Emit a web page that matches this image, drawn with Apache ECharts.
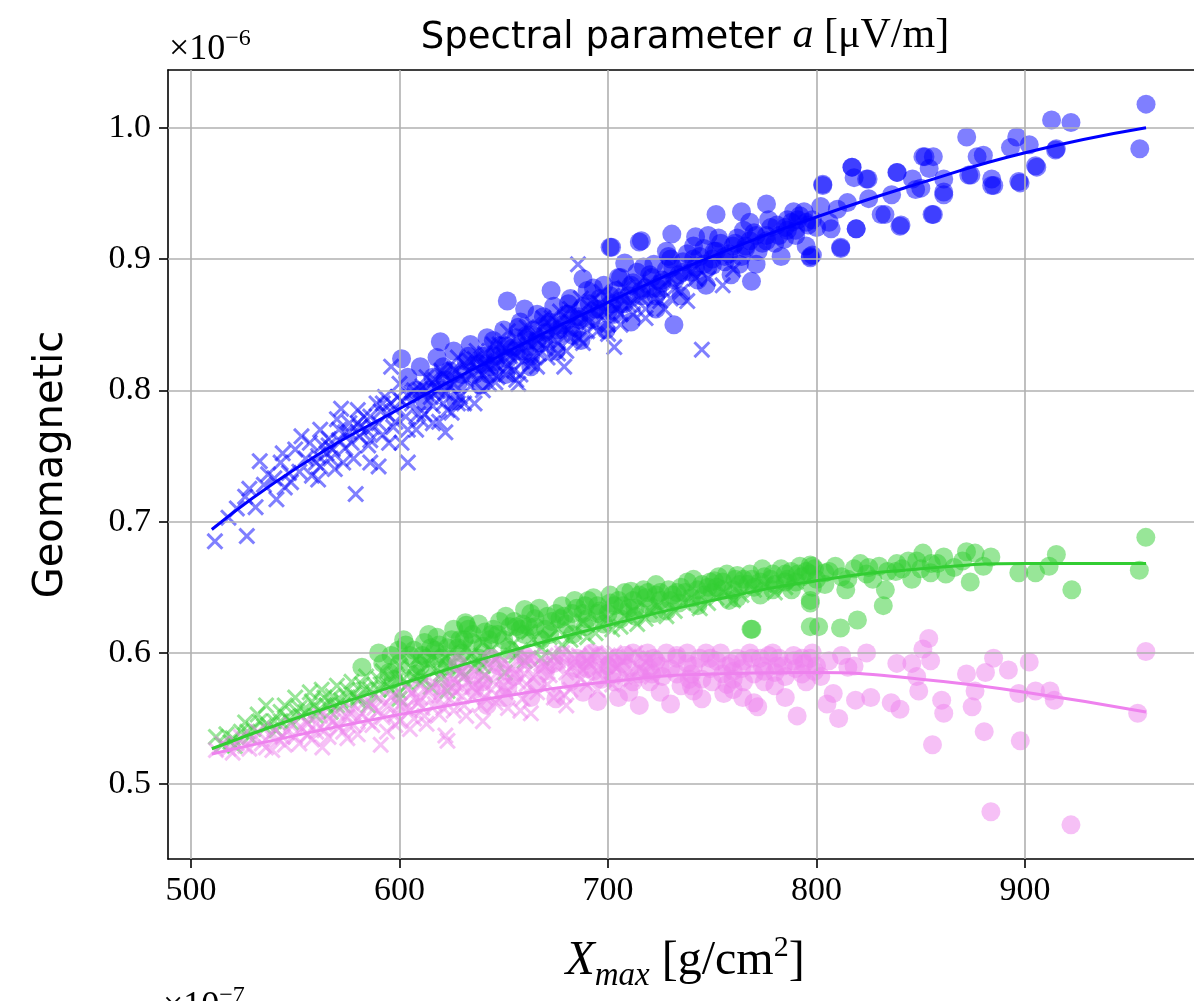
<!DOCTYPE html>
<html>
<head>
<meta charset="utf-8">
<title>Spectral parameter a</title>
<script src="https://cdn.jsdelivr.net/npm/echarts@6/dist/echarts.min.js"></script>
<style>
  html, body { margin: 0; padding: 0; background: #fff; }
  #chart { width: 1194px; height: 1001px; }
</style>
</head>
<body>
<div id="chart"></div>
<script>
// values in units of 1e-6 (shown by the offset text)
const xTicks = [500, 600, 700, 800, 900]
const yTicks = [0.5, 0.6, 0.7, 0.8, 0.9, 1.0]

const blueFit = [[510, 0.694], [550, 0.740], [600, 0.786], [650, 0.828], [700, 0.867], [750, 0.902], [800, 0.932], [850, 0.958], [900, 0.981], [958, 1.000]]
const greenFit = [[510, 0.527], [550, 0.550], [600, 0.576], [650, 0.600], [700, 0.621], [750, 0.640], [800, 0.655], [850, 0.664], [900, 0.668], [958, 0.668]]
const violetFit = [[510, 0.523], [550, 0.537], [600, 0.553], [650, 0.567], [700, 0.578], [750, 0.584], [800, 0.585], [850, 0.580], [900, 0.570], [958, 0.555]]

const blueCross = [
  [511.5, .685], [526.8, .689], [533, .746], [537, .736], [531, .711], [541, .717], [526, .719], [550, .755], [547, .737], [561, .732],
  [562, .770], [572, .786], [579, .721], [590, .742], [604, .745], [622, .768], [625, .783], [657, .805], [596, .818], [679, .818],
  [703, .833], [685.6, .896], [656, .808], [666, .818], [745, .831],
  [518, .703], [522, .710], [528, .725], [535, .728], [540, .733], [543, .745], [545, .726], [552, .738], [555, .748], [557, .760],
  [560, .745], [565, .752], [566, .763], [569, .740], [571, .770], [574, .756], [576, .775], [578, .748], [581, .765], [583, .780],
  [585, .758], [587, .772], [589, .790], [592, .766], [594, .782], [597, .772], [599, .795], [601, .760], [603, .780], [606, .790],
  [608, .770], [610, .800], [612, .782], [615, .795], [617, .808], [619, .776], [621, .790], [624, .803], [627, .815], [629, .795],
  [632, .808], [634, .822], [636, .790], [638, .815], [641, .828], [643, .805], [646, .820], [648, .835], [651, .812], [653, .826],
  [656, .840], [659, .822], [662, .835], [664, .850], [667, .828], [670, .842], [673, .855], [676, .836], [679, .848], [682, .862],
  [686, .840], [689, .855], [692, .868], [695, .845], [698, .860], [702, .872], [706, .850], [710, .865], [714, .880], [718, .855],
  [722, .870], [727, .862], [732, .878], [738, .868], [742, .885], [755, .880], [760, .892],
  [544, .752], [548, .730], [553, .765], [558, .735], [563, .758], [567, .748], [570, .778], [573, .745], [577, .760], [580, .785],
  [584, .770], [586, .745], [590, .775], [593, .795], [595, .760], [598, .785], [600, .805], [604, .770], [607, .800], [609, .782],
  [613, .810], [616, .775], [618, .800], [620, .815], [623, .785], [626, .805], [628, .825], [631, .790], [633, .815], [637, .830],
  [640, .800], [642, .818], [645, .835], [647, .810], [650, .825], [652, .845], [655, .815], [658, .832], [661, .848], [663, .820],
  [666, .838], [669, .855], [671, .825], [674, .845], [677, .860], [680, .830], [683, .852], [687, .870], [690, .845], [694, .860],
  [697, .875], [700, .850], [704, .862], [708, .878], [712, .858], [716, .870], [720, .882], [725, .868], [730, .885], [735, .875],
  [740, .890], [748, .885],
  [562, .742], [568, .755], [574, .768], [580, .775], [586, .762], [592, .790], [598, .776], [604, .796], [610, .778], [616, .788],
  [622, .798], [628, .790], [634, .803], [640, .812], [646, .806], [652, .818], [658, .812], [664, .826], [670, .832], [676, .828],
  [682, .840], [688, .836], [694, .850], [700, .843], [706, .858], [712, .866], [718, .862], [724, .876], [730, .870],
  [561, .750], [566, .758], [571, .762], [576, .768], [581, .772], [586, .780], [591, .784], [596, .790], [601, .792], [606, .798],
  [611, .803], [616, .806], [621, .812], [626, .816], [631, .820], [636, .824], [641, .820], [646, .828], [651, .832], [656, .826],
  [661, .838], [666, .844], [671, .838], [676, .852], [681, .846], [686, .858], [691, .852], [696, .866]
]
const blueCircle = [
  [601, .824], [619.6, .837], [651.7, .868], [660, .862], [672.7, .876], [701, .909], [715, .913], [731.6, .850], [768.8, .883],
  [701.7, .909], [811.6, .909], [797, .901], [819, .923], [832.8, .934], [840.5, .926], [856, .934], [817, .970], [824.7, .961],
  [838.5, .966], [852, .978], [861, .951], [873, .964], [884, .956], [897, .959], [905, .971], [914.6, .983], [751.8, .934],
  [764, .936], [776, .942], [803, .957], [716, .914], [730.6, .919], [742, .917], [750, .895], [792, .933], [798, .903],
  [784.6, .915], [846, .961], [850, .954],
  [958, 1.018], [955, .984], [912.7, 1.006], [922, 1.004], [915, .984], [897.6, .958], [905.6, .970], [902, .987], [893, .985],
  [896, .993], [872, .993], [877, .978], [874, .964], [885, .956], [884, .961], [880, .979], [855.4, .934], [861, .949], [861, .961],
  [851, .978], [856, .978], [854, .969], [847.5, .953], [838.7, .966], [836, .949], [840, .925], [831, .934], [824, .961], [817, .970],
  [818, .962], [825, .946], [814.8, .943], [819, .923], [811.6, .908], [797, .902], [803, .956], [807, .923], [788, .928],
  [608, .800], [612, .792], [616, .810], [620, .800], [624, .815], [628, .805], [632, .822], [636, .812], [640, .826], [644, .818],
  [648, .834], [652, .824], [656, .840], [660, .830], [664, .846], [668, .836], [672, .852], [676, .842], [680, .858], [684, .848],
  [688, .864], [692, .854], [696, .870], [700, .860], [704, .876], [708, .866], [712, .882], [716, .872], [720, .888], [724, .878],
  [728, .892], [732, .884], [736, .898], [740, .890], [744, .902], [748, .894], [752, .906], [756, .898], [760, .910], [764, .902],
  [768, .914], [772, .906], [776, .918], [780, .912], [785, .924], [790, .918], [795, .928], [800, .924],
  [604, .810], [610, .818], [614, .800], [618, .825], [622, .808], [626, .830], [630, .812], [634, .835], [638, .820], [642, .840],
  [646, .826], [650, .846], [654, .832], [658, .852], [662, .838], [666, .858], [670, .844], [674, .864], [678, .850], [682, .870],
  [686, .856], [690, .876], [694, .862], [698, .880], [702, .866], [706, .886], [710, .872], [714, .890], [718, .878], [722, .896],
  [726, .884], [730, .900], [734, .888], [738, .904], [742, .894], [746, .908], [750, .900], [754, .912], [758, .904], [762, .916],
  [766, .908], [770, .920], [774, .912], [778, .924], [782, .918], [786, .930], [790, .922], [794, .936], [798, .930], [802, .940],
  [806, .928], [810, .938], [643, .812], [663, .826], [683, .842], [703, .858], [723, .872], [743, .884], [763, .896], [688, .885],
  [708, .897], [728, .906], [748, .918], [768, .928],
  [621, .818], [627, .792], [633, .826], [639, .804], [645, .838], [651, .812], [657, .848], [663, .818], [669, .856], [675, .830],
  [681, .866], [687, .838], [693, .878], [699, .846], [705, .886], [711, .852], [717, .894], [723, .862], [729, .902], [735, .872],
  [741, .910], [747, .880], [753, .916], [759, .888], [765, .922], [771, .896], [777, .930], [783, .902], [789, .936], [795, .910],
  [641, .826], [646, .822], [651, .834], [656, .830], [661, .842], [666, .838], [671, .850], [676, .846], [681, .858], [686, .854],
  [691, .866], [696, .862], [701, .872], [706, .868], [711, .880], [716, .876], [721, .886], [726, .882], [731, .894], [736, .890],
  [741, .900], [746, .896], [751, .906], [756, .902], [761, .912], [766, .910], [771, .918], [776, .914], [781, .926], [786, .922],
  [791, .930], [796, .926]
]

const greenCross = [
  [512, .536], [526, .547], [536, .560], [550, .566], [562.7, .572], [615, .574], [623, .571], [631, .582], [641, .583], [650.6, .585],
  [660, .594], [668, .596], [674, .597],
  [515, .530], [520, .535], [524, .540], [530, .542], [533, .548], [540, .548], [543, .555], [546, .551], [552, .558], [555, .555],
  [558, .563], [565, .560], [568, .567], [572, .564], [575, .572], [578, .568], [582, .576], [586, .572], [590, .580], [594, .576],
  [598, .584], [602, .580], [606, .588], [610, .585], [614, .592], [618, .588], [622, .596], [626, .592], [634, .598], [638, .594],
  [644, .602], [648, .598], [654, .606], [658, .602], [664, .610], [672, .612], [678, .606], [684, .616], [690, .612], [696, .622],
  [702, .618], [708, .628], [714, .622], [720, .632], [728, .628], [736, .638], [744, .634], [752, .642], [760, .640], [770, .648],
  [780, .646], [790, .654],
  [517, .538], [521, .529], [528, .536], [532, .553], [537, .545], [541, .541], [545, .560], [548, .547], [553, .552], [557, .570],
  [561, .556], [564, .566], [567, .555], [570, .575], [573, .560], [577, .578], [580, .564], [584, .582], [588, .568], [592, .586],
  [596, .572], [600, .590], [604, .576], [608, .595], [612, .580], [616, .598], [620, .584], [624, .600], [628, .587], [632, .604],
  [636, .590], [640, .608], [646, .595], [652, .612], [656, .598], [662, .616], [668, .604], [676, .618], [682, .610], [688, .624],
  [694, .615], [700, .626], [706, .620], [712, .632], [718, .626], [724, .636], [732, .632], [740, .642], [748, .638], [756, .646],
  [764, .644], [775, .652], [785, .650],
  [560, .552], [570, .560], [580, .566], [590, .572], [600, .570], [610, .578], [620, .580], [630, .586], [640, .590], [600, .565],
  [585, .560],
  [519, .532], [527, .540], [535, .544], [543, .548], [551, .555], [559, .560], [567, .562], [575, .566], [583, .572], [591, .576],
  [599, .580], [607, .582], [615, .588], [623, .590], [631, .594], [639, .598]
]
const greenCircle = [
  [582, .589], [590, .600], [599.5, .602], [612, .608], [631.6, .623], [660, .633], [690.5, .640], [632, .621], [711, .647],
  [723, .652], [751, .655], [762, .659], [787.7, .662], [797, .667],
  [595, .585], [600, .592], [605, .598], [610, .590], [615, .604], [620, .596], [625, .610], [630, .600], [635, .614], [640, .605],
  [645, .618], [650, .610], [655, .624], [660, .614], [665, .626], [670, .618], [675, .630], [680, .622], [685, .634], [690, .626],
  [695, .636], [700, .630], [705, .640], [710, .634], [715, .644], [720, .636], [725, .646], [730, .640], [735, .650], [740, .642],
  [745, .652], [750, .646], [755, .654], [760, .648], [765, .656], [770, .650], [775, .658], [780, .652], [785, .660], [790, .654],
  [795, .662], [800, .656], [806, .662], [812, .658], [818, .664], [824, .660], [830, .666], [838, .662], [844, .670], [850, .664],
  [858, .668], [866, .665],
  [768.6, .618], [797, .640], [797, .620],
  [957.9, .688], [954.8, .663], [922.4, .648], [915, .675], [911.5, .666], [897, .661], [905, .661], [883.6, .673], [876, .676],
  [871.9, .677], [873.7, .654], [880, .666], [861, .673], [854.7, .661], [851, .676], [845.7, .656], [838.5, .668], [833, .648],
  [832, .636], [819.6, .625], [811.5, .619], [801, .620], [797, .638], [769, .618], [814, .648], [825, .665], [804, .661], [798, .666],
  [592, .592], [597, .580], [603, .606], [608, .584], [613, .596], [618, .612], [623, .590], [628, .604], [633, .618], [638, .596],
  [643, .610], [648, .624], [653, .602], [658, .618], [663, .630], [668, .610], [673, .624], [678, .636], [683, .614], [688, .630],
  [693, .642], [698, .622], [703, .636], [708, .646], [713, .628], [718, .642], [723, .644], [728, .632], [733, .646], [738, .654],
  [743, .636], [748, .650], [753, .658], [758, .640], [763, .652], [768, .660], [773, .644], [778, .656], [783, .664], [788, .648],
  [793, .658], [799, .664], [804, .652], [809, .666], [815, .656], [821, .668], [827, .656], [834, .662], [841, .664], [848, .670],
  [855, .668], [862, .660], [870, .670],
  [596, .598], [602, .610], [607, .602], [614, .614], [619, .606], [626, .618], [631, .610], [638, .622], [644, .614], [651, .628],
  [656, .620], [662, .620], [667, .634], [672, .614], [679, .628], [684, .640], [689, .620], [696, .632], [701, .644], [706, .626],
  [712, .640], [717, .648], [722, .630], [729, .648], [734, .638], [741, .656], [746, .644], [752, .650], [757, .660], [762, .642],
  [769, .656], [774, .664], [779, .648], [786, .656], [792, .666], [798, .650],
  [611, .598], [617, .602], [623, .604], [629, .610], [635, .608], [641, .616], [647, .614], [653, .620], [659, .622], [665, .620],
  [671, .628], [677, .626], [683, .630], [689, .636], [695, .630], [701, .638], [707, .636], [713, .634], [719, .646], [725, .640],
  [731, .644], [737, .646], [743, .648], [749, .654], [755, .648], [761, .656], [767, .652], [773, .654], [779, .660], [785, .654],
  [791, .660], [797, .660]
]

const violetCross = [
  [512, .526], [518, .527], [522, .531], [526, .529], [530, .534], [534, .531], [538, .537], [539, .526], [542, .534], [546, .540],
  [550, .536], [553, .543], [556, .538], [560, .546], [563, .528], [564, .541], [568, .548], [571, .543], [575, .551], [578, .545],
  [582, .554], [585, .548], [588, .558], [591, .530], [592, .551], [595, .560], [598, .553], [602, .563], [605, .556], [608, .566],
  [611, .558], [614, .570], [617, .561], [620, .573], [622, .537], [623, .533], [624, .565], [627, .576], [630, .567], [634, .579],
  [637, .570], [640, .582], [644, .572], [647, .585], [650, .575], [654, .588], [657, .578], [660, .590], [663, .554], [664, .581],
  [668, .592], [672, .583], [676, .594], [680, .585], [684, .596], [688, .587], [692, .598], [696, .589], [700, .598], [705, .590],
  [710, .597], [715, .588], [720, .596],
  [545, .530], [575, .535], [605, .542], [640, .548], [680, .560],
  [515, .531], [520, .524], [524, .536], [528, .527], [532, .540], [536, .528], [540, .542], [544, .536], [548, .545], [552, .531],
  [555, .548], [558, .534], [562, .552], [566, .536], [570, .555], [573, .540], [577, .558], [580, .538], [583, .562], [587, .545],
  [590, .565], [594, .540], [597, .568], [600, .548], [604, .572], [607, .550], [610, .575], [613, .546], [616, .578], [619, .553],
  [622, .580], [626, .556], [629, .584], [632, .552], [636, .586], [639, .560], [642, .590], [646, .562], [649, .592], [652, .558],
  [656, .594], [659, .565], [662, .596], [666, .570], [670, .598], [674, .566], [678, .600], [682, .572], [686, .598], [690, .576],
  [694, .600], [698, .580], [703, .600], [708, .582], [713, .600], [718, .585],
  [598, .545], [603, .558], [609, .562], [612, .552], [618, .566], [621, .558], [627, .570], [631, .560], [635, .574], [641, .566],
  [645, .578], [651, .570], [655, .584], [658, .556], [661, .576], [667, .588], [671, .576], [675, .590], [679, .568], [683, .590],
  [687, .580], [691, .592], [695, .572], [699, .590], [702, .576], [707, .594], [711, .580], [716, .596], [721, .582],
  [560, .540], [570, .546], [580, .550], [590, .556], [600, .560], [610, .566], [620, .570], [630, .574], [640, .576], [650, .582],
  [660, .584], [670, .590], [680, .592], [690, .594], [700, .594], [556, .546], [566, .550], [576, .554], [586, .562], [596, .566],
  [606, .570], [616, .574], [626, .580]
]
const violetCircle = [
  [625, .575], [632, .585], [640, .578], [648, .590], [655, .582], [662, .595], [670, .586], [678, .598], [685, .588], [692, .600],
  [700, .590], [708, .598], [715, .584], [722, .596], [730, .588], [738, .600], [745, .580], [752, .594], [760, .586], [768, .600],
  [775, .578], [782, .596], [790, .588], [798, .600], [730, .561], [741, .571], [755.5, .569], [764.6, .566], [770, .562],
  [771.8, .559], [790.7, .552], [695, .563], [663, .566], [710, .570], [720, .578], [735, .575], [750, .578], [765, .578],
  [780, .575], [795, .578],
  [957.9, .601], [954, .554], [922, .469], [883.6, .479], [897.7, .533], [880.4, .540], [855.6, .530], [902, .593], [892, .587],
  [884.9, .596], [881, .585], [871.9, .584], [874.6, .559], [876, .571], [905, .571], [914, .564], [912, .571], [897, .569],
  [861, .554], [860, .564], [853.8, .611], [851, .603], [854.7, .594], [848, .582], [845.7, .592], [849, .571], [838.5, .592],
  [840, .557], [835.8, .562], [826, .566], [824, .600], [818.7, .564], [815, .589], [810.6, .550], [805, .561], [808, .569],
  [802, .582],
  [628, .592], [636, .572], [644, .596], [652, .574], [660, .598], [666, .576], [674, .592], [682, .578], [689, .594], [697, .580],
  [704, .596], [712, .578], [719, .600], [726, .582], [733, .596], [740, .584], [747, .600], [755, .584], [762, .596], [770, .584],
  [777, .598], [785, .582], [793, .596], [800, .590], [688, .570], [705, .566], [725, .570], [745, .565], [760, .572], [785, .566],
  [675, .565], [650, .566], [642, .560], [715, .560],
  [690, .588], [696, .598], [702, .584], [707, .592], [712, .600], [718, .588], [723, .594], [728, .600], [733, .584], [738, .592],
  [744, .596], [749, .588], [754, .600], [759, .592], [764, .588], [769, .596], [774, .590], [779, .600], [784, .590], [789, .598],
  [794, .592], [799, .586], [806, .594], [812, .598], [818, .590], [740, .575], [760, .580], [780, .585],
  [685, .596], [693, .586], [701, .592], [709, .588], [717, .594], [725, .590], [733, .598], [741, .590], [749, .596], [757, .590],
  [765, .594], [773, .596], [781, .590], [789, .594], [797, .596], [703, .578], [721, .584], [739, .580], [757, .576], [775, .586],
  [793, .584]
]

const crossPath = 'path://M0,2.5L2.5,0L10,7.5L17.5,0L20,2.5L12.5,10L20,17.5L17.5,20L10,12.5L2.5,20L0,17.5L7.5,10Z'
const serif = '"Liberation Serif", "DejaVu Serif", serif'
const sans = '"DejaVu Sans", sans-serif'

function scatter(name, data, color, isCross) {
  return {
    name: name,
    type: 'scatter',
    data: data,
    z: 1,
    symbol: isCross ? crossPath : 'circle',
    symbolSize: isCross ? 17 : 19,
    itemStyle: { color: color, opacity: 0.5 },
    silent: true,
  }
}
function fitLine(name, data, color) {
  return {
    name: name,
    type: 'line',
    data: data,
    z: 3,
    smooth: true,
    symbol: 'none',
    lineStyle: { color: color, width: 3 },
    silent: true,
  }
}
function txt(size, extra) {
  return Object.assign({ fontFamily: serif, fontSize: size, fontWeight: 'normal', color: '#000', verticalAlign: 'bottom' }, extra || {})
}

const gridMarks = xTicks.map(v => ({ xAxis: v })).concat(yTicks.map(v => ({ yAxis: v })))

const chart = echarts.init(document.getElementById('chart'))
const option = {
  animation: false,
  backgroundColor: '#fff',
  title: [
    {
      text: '{s|Spectral parameter }{i|a}{r| [μV/m]}',
      left: 680, top: 10, textAlign: 'center',
      textStyle: {
        fontWeight: 'normal',
        rich: {
          s: txt(37, { fontFamily: sans }),
          i: txt(42, { fontStyle: 'italic' }),
          r: txt(42),
        },
      },
    },
    {
      text: '{t|×10}{e|−6}',
      left: 164, top: 22,
      textStyle: {
        fontWeight: 'normal',
        rich: { t: txt(36), e: txt(24, { padding: [0, 0, 17, 0] }) },
      },
    },
    {
      text: '{x|X}{m|max}{r| [g/cm}{e|2}{r|]}',
      left: 680, top: 928, textAlign: 'center',
      textStyle: {
        fontWeight: 'normal',
        rich: {
          x: txt(48, { fontStyle: 'italic' }),
          m: txt(33, { fontStyle: 'italic', padding: [0, 0, -8, 0] }),
          r: txt(48),
          e: txt(30, { padding: [0, 0, 22, 0] }),
        },
      },
    },
    {
      text: '{t|×10}{e|−7}',
      left: 158, top: 979,
      textStyle: {
        fontWeight: 'normal',
        rich: { t: txt(36), e: txt(24, { padding: [0, 0, 17, 0] }) },
      },
    },
  ],
  grid: { left: 168, top: 70, width: 1028, height: 789, containLabel: false },
  xAxis: [
    {
      type: 'value', min: 489, max: 981,
      axisLine: { show: true, onZero: false, lineStyle: { color: '#000', width: 1.6 } },
      axisTick: { show: true, length: 9, customValues: xTicks, lineStyle: { color: '#000', width: 1.6 } },
      axisLabel: { customValues: xTicks, fontFamily: serif, fontSize: 34, color: '#000', margin: 15 },
      splitLine: { show: false },
    },
    {
      type: 'value', min: 489, max: 981, position: 'top',
      axisLine: { show: true, onZero: false, lineStyle: { color: '#000', width: 1.6 } },
      axisTick: { show: false }, axisLabel: { show: false }, splitLine: { show: false },
    },
  ],
  yAxis: {
    type: 'value', min: 0.443, max: 1.044,
    name: 'Geomagnetic', nameLocation: 'middle', nameGap: 96, nameRotate: 90,
    nameTextStyle: { fontFamily: sans, fontSize: 40, color: '#000', verticalAlign: 'bottom' },
    axisLine: { show: true, onZero: false, lineStyle: { color: '#000', width: 1.6 } },
    axisTick: { show: true, length: 9, customValues: yTicks, lineStyle: { color: '#000', width: 1.6 } },
    axisLabel: { customValues: yTicks, fontFamily: serif, fontSize: 34, color: '#000', margin: 17, formatter: v => v.toFixed(1) },
    splitLine: { show: false },
  },
  series: [
    // green first so the violet cloud sits on top of it, as in the picture
    scatter('green x', greenCross, '#32cd32', true),
    scatter('green o', greenCircle, '#32cd32', false),
    scatter('violet x', violetCross, '#ee82ee', true),
    scatter('violet o', violetCircle, '#ee82ee', false),
    scatter('blue x', blueCross, '#0000ff', true),
    scatter('blue o', blueCircle, '#0000ff', false),
    {
      // grid lines sit above the markers and below the fit lines
      type: 'scatter', data: [], silent: true,
      markLine: {
        z: 2, silent: true, symbol: 'none', animation: false,
        label: { show: false },
        lineStyle: { color: '#b0b0b0', width: 1.6, type: 'solid' },
        data: gridMarks,
      },
    },
    fitLine('green fit', greenFit, '#32cd32'),
    fitLine('violet fit', violetFit, '#ee82ee'),
    fitLine('blue fit', blueFit, '#0000ff'),
  ],
}
chart.setOption(option)
</script>
</body>
</html>
